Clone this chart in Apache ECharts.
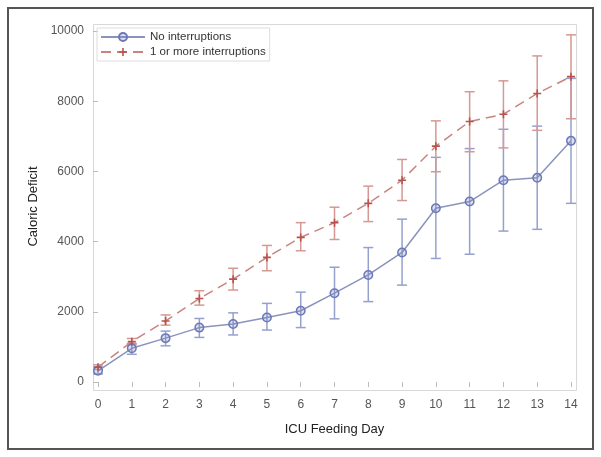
<!DOCTYPE html>
<html><head><meta charset="utf-8">
<script src="https://cdn.jsdelivr.net/npm/echarts@6/dist/echarts.min.js"></script>
<style>html,body{margin:0;padding:0;background:#fff}#c{width:601px;height:457px}</style>
</head><body><div id="c"></div>
<script>
var days = [0,1,2,3,4,5,6,7,8,9,10,11,12,13,14];
var yTicks = [0,2000,4000,6000,8000,10000];
var noIntMean = [320,960,1250,1550,1650,1840,2030,2530,3050,3690,4950,5140,5750,5820,6870];
var noIntLow  = [230,790,1030,1270,1340,1480,1550,1800,2290,2760,3520,3640,4300,4350,5090];
var noIntHigh = [430,1100,1450,1810,1970,2240,2560,3270,3830,4640,6400,6650,7200,7290,8650];
var oneMean = [420,1150,1740,2380,2930,3550,4120,4540,5090,5750,6720,7420,7630,8220,8700];
var oneLow  = [360,1060,1620,2190,2620,3170,3740,4060,4570,5170,5990,6560,6670,7170,7500];
var oneHigh = [490,1240,1910,2600,3240,3890,4540,4980,5580,6340,7440,8270,8580,9290,9890];

var blueLine='#8a93bd', blueBar='#95a1cc', blueMark='#6b79b8';
var redLine='#c8847e', redBar='#d59892', redMark='#b8524c';

function pairs(m){return days.map(function(d,i){return [d,m[i]];});}
function bars(lo,hi){return days.map(function(d,i){return [d,lo[i],hi[i]];});}
function errRender(color){
  return function(params, api){
    var x=api.value(0), lo=api.coord([x,api.value(1)]), hi=api.coord([x,api.value(2)]);
    var w=5;
    return {type:'group',children:[
      {type:'line',shape:{x1:lo[0],y1:lo[1],x2:hi[0],y2:hi[1]},style:{stroke:color,lineWidth:1.5}},
      {type:'line',shape:{x1:lo[0]-w,y1:lo[1],x2:lo[0]+w,y2:lo[1]},style:{stroke:color,lineWidth:1.5}},
      {type:'line',shape:{x1:hi[0]-w,y1:hi[1],x2:hi[0]+w,y2:hi[1]},style:{stroke:color,lineWidth:1.5}}
    ]};
  };
}
var chart = echarts.init(document.getElementById('c'), null, {renderer:'canvas'});
var font = 'Liberation Sans, Arial, sans-serif';
chart.setOption({
  animation:false,
  backgroundColor:'#fff',
  textStyle:{fontFamily:font},
  grid:{left:98,right:30,top:31,bottom:75},
  graphic:[
    {type:'rect',shape:{x:8,y:8,width:585,height:441},style:{fill:'none',stroke:'#555',lineWidth:2},z:-1},
    {type:'rect',shape:{x:93.5,y:24.5,width:483,height:366},style:{fill:'none',stroke:'#d8d8d8',lineWidth:1},z:-1}
  ],
  legend:{
    left:97,top:28,orient:'vertical',itemWidth:44,itemHeight:10,itemGap:3,
    padding:[3,4,3,3],borderColor:'#ddd',borderWidth:1,
    textStyle:{fontFamily:font,fontSize:11.5,color:'#333'},
    data:['No interruptions','1 or more interruptions']
  },
  xAxis:{type:'value',min:0,max:14,interval:1,offset:8,
    name:'ICU Feeding Day',nameLocation:'middle',nameGap:33,
    nameTextStyle:{fontFamily:font,fontSize:13,color:'#222'},
    axisLine:{show:false},axisTick:{show:true,length:5,lineStyle:{color:'#bbb'}},
    axisLabel:{fontFamily:font,fontSize:12,color:'#555',margin:9},
    splitLine:{show:false}},
  yAxis:{type:'value',min:0,max:10000,interval:2000,offset:5,
    name:'Caloric Deficit',nameLocation:'middle',nameGap:53,nameRotate:90,
    nameTextStyle:{fontFamily:font,fontSize:13,color:'#222'},
    axisLine:{show:false},axisTick:{show:true,length:5,lineStyle:{color:'#bbb'}},
    axisLabel:{fontFamily:font,fontSize:12,color:'#555',margin:9,formatter:function(v){return String(v);}},
    splitLine:{show:false}},
  series:[
    {type:'custom',name:'errA',renderItem:errRender(blueBar),data:bars(noIntLow,noIntHigh),encode:{x:0,y:[1,2]},z:1,silent:true},
    {type:'custom',name:'errB',renderItem:errRender(redBar),data:bars(oneLow,oneHigh),encode:{x:0,y:[1,2]},z:1,silent:true},
    {type:'line',name:'No interruptions',data:pairs(noIntMean),symbol:'circle',symbolSize:8.5,
      lineStyle:{color:blueLine,width:1.5},
      itemStyle:{color:'rgba(120,132,190,0.25)',borderColor:blueMark,borderWidth:1.5},z:3},
    {type:'line',name:'1 or more interruptions',data:pairs(oneMean),
      symbol:'path://M4,0h2v4h4v2h-4v4h-2v-4h-4v-2h4z',symbolSize:8,
      lineStyle:{color:redLine,width:1.5,type:[10,6]},
      itemStyle:{color:redMark},z:3}
  ]
});
</script></body></html>
